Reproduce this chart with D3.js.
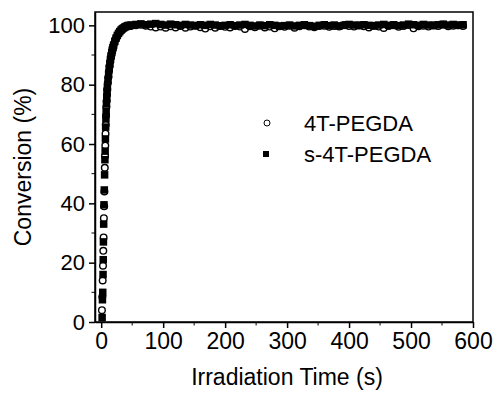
<!DOCTYPE html>
<html>
<head>
<meta charset="utf-8">
<script src="https://cdn.jsdelivr.net/npm/d3@7"></script>
<style>
  body { margin: 0; background: #fff; }
  svg { display: block; font-family: "Liberation Sans", Arial, sans-serif; }
</style>
</head>
<body>
<div id="mainDiv"></div>
<script>
// rise part of the curves
const riseTimes4T = [1.2, 1.8, 2.4, 2.9, 3.4, 3.9, 4.3, 4.8, 5.2, 5.8,
  6.2, 6.6, 7, 7.4, 7.8, 8.3, 8.8, 9.3, 9.8, 10.5,
  11.5, 12.5, 13.5, 14.5, 15.5, 16.5, 17.5, 18.5, 19.5,
  21, 23, 25, 27, 29, 31, 33, 35, 37, 39, 41, 43, 46];
const riseValues4T = [4, 8.5, 14, 19, 24, 28.5, 35, 39, 44, 52,
  56, 59.5, 63.5, 66.5, 69.5, 72.5, 74.5, 76.5, 78.5, 80.5,
  82.5, 84.5, 86.2, 87.8, 89.1, 90.2, 91.2, 92.1, 92.9,
  94, 95.2, 96.1, 96.9, 97.6, 98.1, 98.6, 99, 99.3, 99.5, 99.7, 99.8, 99.9];

const riseTimesS4T = [1.5, 2, 2.5, 3, 3.3, 3.6, 4, 4.5, 5, 5.5,
  6, 6.4, 6.8, 7.2, 7.6, 8, 8.5, 9, 9.5, 10,
  11, 12, 13, 14, 15, 16, 17, 18, 19, 20,
  22, 24, 26, 28, 30, 32, 34, 36, 38, 40, 42, 44];
const riseValuesS4T = [1.5, 7.5, 10, 16, 21, 27, 33, 39.5, 44.5, 49.6,
  54.7, 57.6, 61.7, 65.7, 68.5, 71, 73.5, 75.5, 77.5, 79,
  81.5, 83.5, 85.5, 87, 88.5, 89.7, 90.8, 91.7, 92.5, 93.3,
  94.6, 95.7, 96.6, 97.3, 97.9, 98.4, 98.8, 99.1, 99.4, 99.6, 99.8, 100.0];

// plateau part, shared time stamps
const plateauTimes = [48, 56, 64, 72, 80, 88, 96, 104, 112, 120,
  128, 136, 144, 152, 160, 168, 176, 184, 192, 200,
  208, 216, 224, 232, 240, 248, 256, 264, 272, 280,
  288, 296, 304, 312, 320, 328, 336, 344, 352, 360,
  368, 376, 384, 392, 400, 408, 416, 424, 432, 440,
  448, 456, 464, 472, 480, 488, 496, 504, 512, 520,
  528, 536, 544, 552, 560, 568, 576, 584];
const plateauValues4T = [99.8, 100.0, 100.2, 99.9, 99.6, 99.3, 99.6, 99.2, 99.7, 99.3,
  99.8, 99.2, 99.6, 99.9, 99.4, 98.9, 99.7, 99.2, 99.8, 99.5,
  99.3, 99.8, 99.6, 98.8, 99.7, 99.4, 99.9, 99.3, 99.6, 99.0,
  99.7, 99.5, 99.9, 99.2, 99.7, 100.0, 99.6, 99.4, 99.8, 99.9,
  99.5, 99.8, 99.6, 100.1, 99.8, 99.6, 100.0, 99.7, 99.3, 99.9,
  99.6, 99.1, 99.8, 100.0, 99.5, 99.8, 100.1, 99.0, 99.7, 99.9,
  99.6, 100.0, 99.8, 100.2, 99.7, 99.9, 100.0, 99.8];
const plateauValuesS4T = [100.1, 100.3, 100.5, 100.2, 100.4, 100.6, 100.3, 100.1, 100.4, 100.2,
  100.0, 100.3, 100.1, 99.9, 100.2, 100.0, 100.3, 100.1, 99.8, 100.0,
  100.2, 99.9, 100.1, 100.3, 100.0, 99.8, 100.1, 99.9, 100.2, 100.0,
  99.7, 99.9, 100.1, 99.8, 100.0, 100.2, 99.9, 99.7, 100.0, 100.2,
  99.9, 100.1, 99.8, 100.0, 100.3, 100.1, 99.9, 100.2, 100.0, 99.8,
  100.1, 100.3, 100.0, 100.2, 99.9, 100.1, 100.4, 100.2, 100.0, 100.3,
  100.1, 99.9, 100.2, 100.4, 100.1, 100.3, 100.0, 100.2];

const seriesNames = ["4T-PEGDA", "s-4T-PEGDA"];
const xTicks = [0, 100, 200, 300, 400, 500, 600];
const xMinorTicks = [50, 150, 250, 350, 450, 550];
const yTicks = [0, 20, 40, 60, 80, 100];
const yMinorTicks = [10, 30, 50, 70, 90];

const chartSize = {
  margin: ({ top: 12, right: 24, bottom: 71, left: 95 }),
  height: 393,
  width: 497,
};

function buildSeries(times, values) {
  return d3.zip(times, values).map(([t, v]) => ({ t, v }));
}

const data4T = buildSeries(riseTimes4T, riseValues4T)
  .concat(buildSeries(plateauTimes, plateauValues4T));
const dataS4T = buildSeries(riseTimesS4T, riseValuesS4T)
  .concat(buildSeries(plateauTimes, plateauValuesS4T));

const m = chartSize.margin;
const x = d3.scaleLinear()
  .domain([-10, 600])
  .range([m.left, chartSize.width - m.right]);
const y = d3.scaleLinear()
  .domain([0, 104.5])
  .range([chartSize.height - m.bottom, m.top]);

const svg = d3.select("#mainDiv")
  .append("svg")
  .attr("width", chartSize.width)
  .attr("height", chartSize.height);

// frame
svg.append("rect")
  .attr("x", m.left)
  .attr("y", m.top)
  .attr("width", x.range()[1] - m.left)
  .attr("height", y.range()[0] - m.top)
  .attr("fill", "none")
  .attr("stroke", "#000")
  .attr("stroke-width", 1.5);

// circles first, squares drawn over them
svg.append("g")
  .selectAll("circle")
  .data(data4T)
  .join("circle")
  .attr("cx", d => x(d.t))
  .attr("cy", d => y(d.v))
  .attr("r", 3.3)
  .attr("fill", "#fff")
  .attr("stroke", "#000")
  .attr("stroke-width", 1.4);

const sq = 7.5;
svg.append("g")
  .selectAll("rect")
  .data(dataS4T)
  .join("rect")
  .attr("x", d => x(d.t) - sq / 2)
  .attr("y", d => y(d.v) - sq / 2)
  .attr("width", sq)
  .attr("height", sq)
  .attr("fill", "#000");

// axes
const xAxis = g => g
  .attr("transform", `translate(0,${y(0)})`)
  .call(d3.axisBottom(x).tickValues(xTicks).tickSize(6).tickPadding(5).tickSizeOuter(0))
  .call(g => g.selectAll("text").attr("font-size", 23).attr("font-family", null))
  .call(g => g.selectAll(".minor")
    .data(xMinorTicks)
    .join("line")
    .attr("class", "minor")
    .attr("x1", d => x(d)).attr("x2", d => x(d))
    .attr("y1", 0).attr("y2", 3.5)
    .attr("stroke", "#000"));

const yAxis = g => g
  .attr("transform", `translate(${m.left},0)`)
  .call(d3.axisLeft(y).tickValues(yTicks).tickSize(6).tickPadding(4).tickSizeOuter(0))
  .call(g => g.selectAll("text").attr("font-size", 22).attr("font-family", null))
  .call(g => g.selectAll(".minor")
    .data(yMinorTicks)
    .join("line")
    .attr("class", "minor")
    .attr("y1", d => y(d)).attr("y2", d => y(d))
    .attr("x1", 0).attr("x2", -3.5)
    .attr("stroke", "#000"));

svg.append("g").call(xAxis);
svg.append("g").call(yAxis);
svg.selectAll(".domain, .tick line").attr("stroke-width", 1.5);

// axis titles
svg.append("text")
  .attr("x", (x.range()[0] + x.range()[1]) / 2 + 3)
  .attr("y", 385)
  .attr("text-anchor", "middle")
  .attr("font-size", 23)
  .text("Irradiation Time (s)");

svg.append("text")
  .attr("transform", `translate(31,${(y.range()[0] + y.range()[1]) / 2}) rotate(-90)`)
  .attr("text-anchor", "middle")
  .attr("font-size", 23)
  .text("Conversion (%)");

// legend
const legend = svg.append("g");
legend.append("circle")
  .attr("cx", 267).attr("cy", 123).attr("r", 3)
  .attr("fill", "#fff").attr("stroke", "#000");
legend.append("rect")
  .attr("x", 263).attr("y", 151).attr("width", 6).attr("height", 6)
  .attr("fill", "#000");
legend.selectAll("text")
  .data(seriesNames)
  .join("text")
  .attr("x", 304)
  .attr("y", (d, i) => 123 + i * 31)
  .attr("dy", "0.36em")
  .attr("font-size", 22)
  .text(d => d);
</script>
</body>
</html>
